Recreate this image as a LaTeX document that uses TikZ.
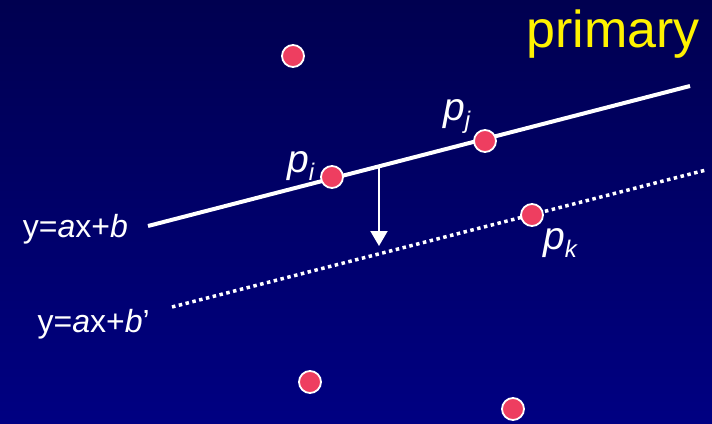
\documentclass[tikz,border=0pt]{standalone}
\usepackage{fontspec}
\setmainfont{Liberation Sans}
\usetikzlibrary{arrows.meta}
\usepackage{xcolor}

\definecolor{slidetop}{RGB}{0,0,80}
\definecolor{slidebottom}{RGB}{0,0,130}
\definecolor{ptred}{RGB}{238,62,96}
\newcommand{\ptlabel}[2]{\textit{#1}\raisebox{-0.22em}{\fontsize{24}{24}\selectfont\textit{#2}}}

\begin{document}
\begin{tikzpicture}[
    x=1pt, y=-1pt,
    pt/.style={
        circle,
        draw=white,
        line width=1.8pt,
        fill=ptred,        % red dot with a white rim
        minimum size=22pt,
        inner sep=0pt
    },
    eqn/.style={text=white, inner sep=0pt, font=\fontsize{32}{34}\selectfont},
    plbl/.style={text=white, inner sep=0pt, font=\fontsize{39}{41}\selectfont}
]
% background of the slide
\shade[top color=slidetop, bottom color=slidebottom] (0,0) rectangle (712,423);

% end points of the two lines
\coordinate (solidL) at (148,226);
\coordinate (solidR) at (690,86);
\coordinate (dotL) at (172,307);
\coordinate (dotR) at (706,170);
\coordinate (shiftA) at (379,166);
\coordinate (shiftB) at (379,246);

\draw[white, line width=4pt] (solidL) -- (solidR);
\draw[white, line width=3.5pt, dash pattern=on 3.5pt off 3.5pt] (dotL) -- (dotR);
\draw[white, line width=2pt, -{Triangle[width=17pt,length=15pt]}] (shiftA) -- (shiftB);

% the points
\node[pt] (q1) at (293,56) {};
\node[pt] (pi) at (332,177) {};
\node[pt] (pj) at (485,141) {};
\node[pt] (pk) at (532,215) {};
\node[pt] (q2) at (310,382) {};
\node[pt] (q3) at (513,409) {};

% labels
\node[plbl, anchor=base west] (pilbl) at (287,172) {\ptlabel{p}{i}};
\node[plbl, anchor=base west] (pjlbl) at (443,120) {\ptlabel{p}{j}};
\node[plbl, anchor=base west] (pklbl) at (543,249) {\ptlabel{p}{k}};
\node[eqn, anchor=base east] (line1) at (128,237) {y=\textit{a}x+\textit{b}};
\node[eqn, anchor=base east] (line2) at (150,332) {y=\textit{a}x+\textit{b}’};
\node[text=yellow, inner sep=0pt, anchor=base east, font=\fontsize{52}{54}\selectfont] (title) at (700,47) {primary};
\end{tikzpicture}
\end{document}
